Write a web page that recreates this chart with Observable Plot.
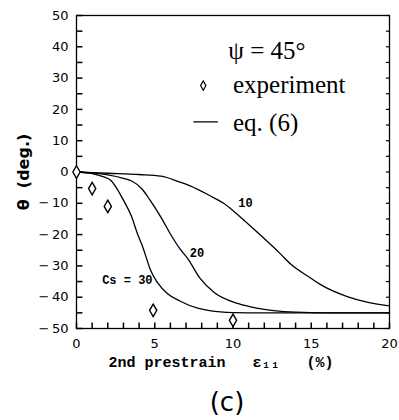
<!DOCTYPE html>
<html><head><meta charset="utf-8">
<script src="https://cdn.jsdelivr.net/npm/d3@7"></script>
<script src="https://cdn.jsdelivr.net/npm/@observablehq/plot@0.6"></script>
<style>
body{margin:0;background:#fff;}
</style></head>
<body><div id="chart"></div>
<script>
// ---- data ----
const cs10 = [[0,0],[2,-0.4],[4,-0.8],[5.4,-1.3],[6.6,-3.2],[7.3,-4.5],[8.5,-7.5],[9.4,-10],[10.5,-14.5],[11.5,-19],[13,-26],[13.7,-29.5],[15,-34],[15.6,-36],[17.3,-39.8],[18.5,-41.5],[20,-42.8]];
const cs20 = [[0,0],[1,-0.3],[2,-0.9],[3,-2],[3.5,-2.8],[4.2,-5.5],[4.7,-9],[5.4,-14.5],[6,-19.8],[6.6,-24.5],[7.1,-27.6],[7.9,-34],[8.8,-38.5],[10.3,-42],[11.5,-43.5],[12.6,-44.3],[14,-44.8],[16,-45],[20,-45]];
const cs30 = [[0,0],[1,-0.5],[1.7,-1.5],[2.2,-2.7],[3,-9],[3.5,-14],[3.9,-19.8],[4.2,-23.5],[4.5,-28],[4.7,-31],[5.2,-35.5],[5.8,-38.8],[6.6,-41.2],[7.8,-43.6],[8.5,-44.3],[10,-44.9],[12,-45],[20,-45]];
const experiment = [[0,0],[1,-5.3],[2,-11],[4.9,-44.2],[10,-47.4]];
const curveLabels = [
  {x: 10.8, y: -10, text: "10"},
  {x: 7.7, y: -26, text: "20"},
  {x: 3.25, y: -34.7, text: "Cs = 30"}
];
const legendTexts = [
  {x: 9.7, y: 38.5, text: "ψ = 45°"},
  {x: 10.0, y: 27.8, text: "experiment"},
  {x: 10.0, y: 15.5, text: "eq. (6)"}
];
const legendSymbol = [[8.1, 27.6]];
const legendLine = [[7.5, 16], [9.0, 16]];
const xTickLabels = [0, 5, 10, 15, 20];
const yTickLabels = [-50, -40, -30, -20, -10, 0, 10, 20, 30, 40, 50];
const xMinorTicks = [0,1,2,3,4,5,6,7,8,9,10,11,12,13,14,15,16,17,18,19,20];
const yMinorTicks = [-50,-45,-40,-35,-30,-25,-20,-15,-10,-5,0,5,10,15,20,25,30,35,40,45,50];
const xLabel = "2nd\u00a0prestrain\u00a0\u00a0\u00a0ε\u2081\u2081\u00a0\u00a0\u00a0(%)";
const yLabel = "θ  (deg.)";
const caption = "(c)";

const W = 399, H = 420, ML = 76, MR = 10, MT = 15, MB = 92;
// inward tick lengths in data units (≈6 px on each axis)
const tyLen = 1.9, txLen = 0.38;
const series = [cs10, cs20, cs30];

const plot = Plot.plot({
  width: W, height: H,
  marginLeft: ML, marginRight: MR, marginTop: MT, marginBottom: MB,
  x: {domain: [0, 20]},
  y: {domain: [-50, 50]},
  style: {fontFamily: "DejaVu Sans", background: "#fff", color: "#000"},
  marks: [
    Plot.frame({stroke: "#000", strokeWidth: 1.3}),
    Plot.link(xMinorTicks, {x1: d => d, x2: d => d, y1: () => -50, y2: () => -50 + tyLen, stroke: "#000", strokeWidth: 1.5}),
    Plot.link(yMinorTicks, {y1: d => d, y2: d => d, x1: () => 0, x2: () => txLen, stroke: "#000", strokeWidth: 1.5}),
    Plot.link(yMinorTicks, {y1: d => d, y2: d => d, x1: () => 20 - txLen * 0.6, x2: () => 20, stroke: "#000", strokeWidth: 1.2}),
    Plot.axisX(xTickLabels, {tickSize: 0, tickPadding: 10, fontSize: 13, label: null, fill: "#000"}),
    Plot.axisY(yTickLabels, {tickSize: 0, tickPadding: 8, fontSize: 13, label: null, fill: "#000",
      tickFormat: d => d < 0 ? "\u2212\u2009" + Math.abs(d) : String(d)}),
    ...series.map(s => Plot.line(s, {x: d => d[0], y: d => d[1], curve: "monotone-x", stroke: "#000", strokeWidth: 1.3})),
    Plot.dot(experiment, {x: d => d[0], y: d => d[1], symbol: "diamond", r: 3.8, stroke: "#000", fill: "#fff", strokeWidth: 1.4}),
    Plot.text(curveLabels, {x: "x", y: "y", text: "text", fontFamily: "Liberation Mono", fontWeight: "bold", fontSize: 12, fill: "#000"}),
    Plot.text(legendTexts, {x: "x", y: "y", text: "text", textAnchor: "start", fontFamily: "Liberation Serif", fontSize: 25, fill: "#000"}),
    Plot.dot(legendSymbol, {x: d => d[0], y: d => d[1], symbol: "diamond", r: 2.8, stroke: "#000", fill: "#fff", strokeWidth: 1.2}),
    Plot.line(legendLine, {x: d => d[0], y: d => d[1], stroke: "#000", strokeWidth: 1.3}),
    Plot.text([xLabel], {text: d => d, frameAnchor: "bottom", dx: -12, dy: 38, fontFamily: "Liberation Mono", fontWeight: "bold", fontSize: 15, fill: "#000"}),
    Plot.text([yLabel], {text: d => d, frameAnchor: "left", textAnchor: "middle", rotate: -90, dx: -53, fontFamily: "DejaVu Sans", fontWeight: "bold", fontSize: 16, fill: "#000"}),
    Plot.text([caption], {text: d => d, frameAnchor: "bottom", dx: -6, dy: 82, fontFamily: "DejaVu Sans", fontSize: 26, fill: "#000"})
  ]
});
document.getElementById("chart").append(plot);
</script>
</body></html>
